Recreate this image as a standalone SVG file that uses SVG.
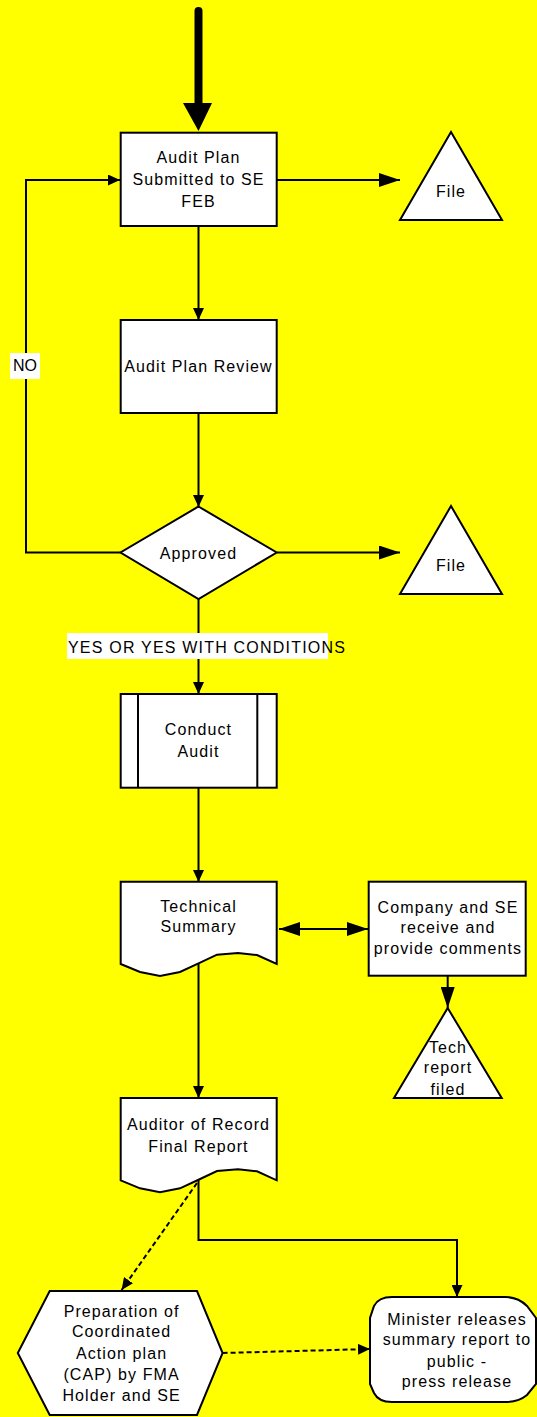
<svg xmlns="http://www.w3.org/2000/svg" width="537" height="1417" viewBox="0 0 537 1417">
<style>
.s{fill:#fff;stroke:#000;stroke-width:2}
.c{fill:none;stroke:#000;stroke-width:2}
.d{fill:none;stroke:#000;stroke-width:2;stroke-dasharray:5,3}
text{font-family:"Liberation Sans",Arial,sans-serif;font-size:16px;letter-spacing:1.1px;fill:#000;text-anchor:middle}
</style>
<defs>
<marker id="sa" markerUnits="userSpaceOnUse" markerWidth="12" markerHeight="11" refX="12" refY="5.5" orient="auto"><path d="M0,0 L12,5.5 L0,11 z" fill="#000"/></marker>
<marker id="ba" markerUnits="userSpaceOnUse" markerWidth="21" markerHeight="14" refX="21" refY="7" orient="auto-start-reverse"><path d="M0,0 L21,7 L0,14 z" fill="#000"/></marker>
</defs>
<rect width="537" height="1417" fill="#ffff00"/>
<g id="connectors">
<line x1="198.5" y1="11" x2="198.5" y2="105" stroke="#000" stroke-width="8" stroke-linecap="round"/>
<polygon points="183,103 212,103 198.5,131" fill="#000"/>
<line class="c" x1="277" y1="180" x2="400" y2="180" marker-end="url(#ba)"/>
<line class="c" x1="198.5" y1="226" x2="198.5" y2="320" marker-end="url(#sa)"/>
<line class="c" x1="198.5" y1="413" x2="198.5" y2="507" marker-end="url(#sa)"/>
<polyline class="c" points="120.5,552.5 26,552.5 26,180 120,180" marker-end="url(#sa)"/>
<line class="c" x1="277" y1="552.5" x2="400" y2="552.5" marker-end="url(#ba)"/>
<line class="c" x1="198.5" y1="599" x2="198.5" y2="694" marker-end="url(#sa)"/>
<line class="c" x1="198.5" y1="788" x2="198.5" y2="882" marker-end="url(#sa)"/>
<line class="c" x1="279" y1="929" x2="368" y2="929" marker-start="url(#ba)" marker-end="url(#ba)"/>
<line class="c" x1="447.7" y1="976" x2="447.7" y2="1008" marker-end="url(#ba)"/>
<line class="c" x1="198.5" y1="963" x2="198.5" y2="1098" marker-end="url(#sa)"/>
<polyline class="c" points="198.5,1180 198.5,1240 457,1240 457,1297" marker-end="url(#sa)"/>
<line class="d" x1="197" y1="1183" x2="121.6" y2="1290" marker-end="url(#sa)"/>
<line class="d" x1="222.6" y1="1353" x2="370" y2="1349" marker-end="url(#sa)"/>
<rect x="10" y="353" width="30" height="26" fill="#fff"/>
<text x="25" y="371" style="letter-spacing:0">NO</text>
<rect x="67" y="633" width="261" height="26" fill="#fff"/>
<text x="68" y="653" style="text-anchor:start;letter-spacing:1.2px">YES OR YES WITH CONDITIONS</text>
</g>
<g id="n1">
<rect class="s" x="120.7" y="132.7" width="156" height="93.3"/>
<text x="198.5" y="163">Audit Plan</text>
<text x="198.5" y="185">Submitted to SE</text>
<text x="198.5" y="207">FEB</text>
</g>
<g id="file1">
<polygon class="s" points="451,132 502,220 400,220"/>
<text x="451" y="197">File</text>
</g>
<g id="n2">
<rect class="s" x="120.7" y="320" width="156" height="93"/>
<text x="198.5" y="372">Audit Plan Review</text>
</g>
<g id="decision">
<polygon class="s" points="198.5,506.5 276.7,552.5 198.5,599 120.5,552.5"/>
<text x="198.5" y="559">Approved</text>
</g>
<g id="file2">
<polygon class="s" points="451,506 502,594 400,594"/>
<text x="451" y="571">File</text>
</g>
<g id="conduct">
<rect class="s" x="120.7" y="694" width="156" height="93.7"/>
<line class="c" x1="138" y1="694" x2="138" y2="787.7"/>
<line class="c" x1="257.3" y1="694" x2="257.3" y2="787.7"/>
<text x="198.5" y="735">Conduct</text>
<text x="198.5" y="757">Audit</text>
</g>
<g id="techsum">
<path class="s" d="M120.7,881.7 H276.7 V964 L257,955 L238,953 L217,954.7 L198,963.7 L180,972 L160,976 L140,972 L120.7,964 Z"/>
<text x="198.5" y="912">Technical</text>
<text x="198.5" y="932">Summary</text>
</g>
<g id="company">
<rect class="s" x="368.7" y="881.7" width="157" height="94"/>
<text x="448" y="913">Company and SE</text>
<text x="448" y="933">receive and</text>
<text x="448" y="954">provide comments</text>
</g>
<g id="techfiled">
<polygon class="s" points="447.7,1008 501.7,1098 394,1098"/>
<text x="448" y="1053">Tech</text>
<text x="448" y="1073">report</text>
<text x="448" y="1095">filed</text>
</g>
<g id="auditor">
<path class="s" d="M120.7,1098 H276.7 V1180.3 L257,1171.3 L238,1169.3 L217,1171 L198,1180 L180,1188.3 L160,1192.3 L140,1188.3 L120.7,1180.3 Z"/>
<text x="198.5" y="1130">Auditor of Record</text>
<text x="198.5" y="1152">Final Report</text>
</g>
<g id="cap">
<polygon class="s" points="49.7,1291 197,1291 222.6,1353 197,1415 49.7,1415 17.8,1353"/>
<text x="121.6" y="1317">Preparation of</text>
<text x="121.6" y="1337">Coordinated</text>
<text x="121.6" y="1359">Action plan</text>
<text x="121.6" y="1380">(CAP) by FMA</text>
<text x="121.6" y="1401">Holder and SE</text>
</g>
<g id="minister">
<path class="s" d="M392,1297 H505 C515,1297 521,1300 527,1306 L536,1318 V1384 L527,1395 C521,1400 515,1402 505,1402 H392 C382,1402 377,1399 374,1393 L370,1384 V1318 L374,1306 C377,1300 382,1297 392,1297 Z"/>
<text x="457" y="1325">Minister releases</text>
<text x="457" y="1345">summary report to</text>
<text x="457" y="1367">public -</text>
<text x="457" y="1387">press release</text>
</g>
</svg>
